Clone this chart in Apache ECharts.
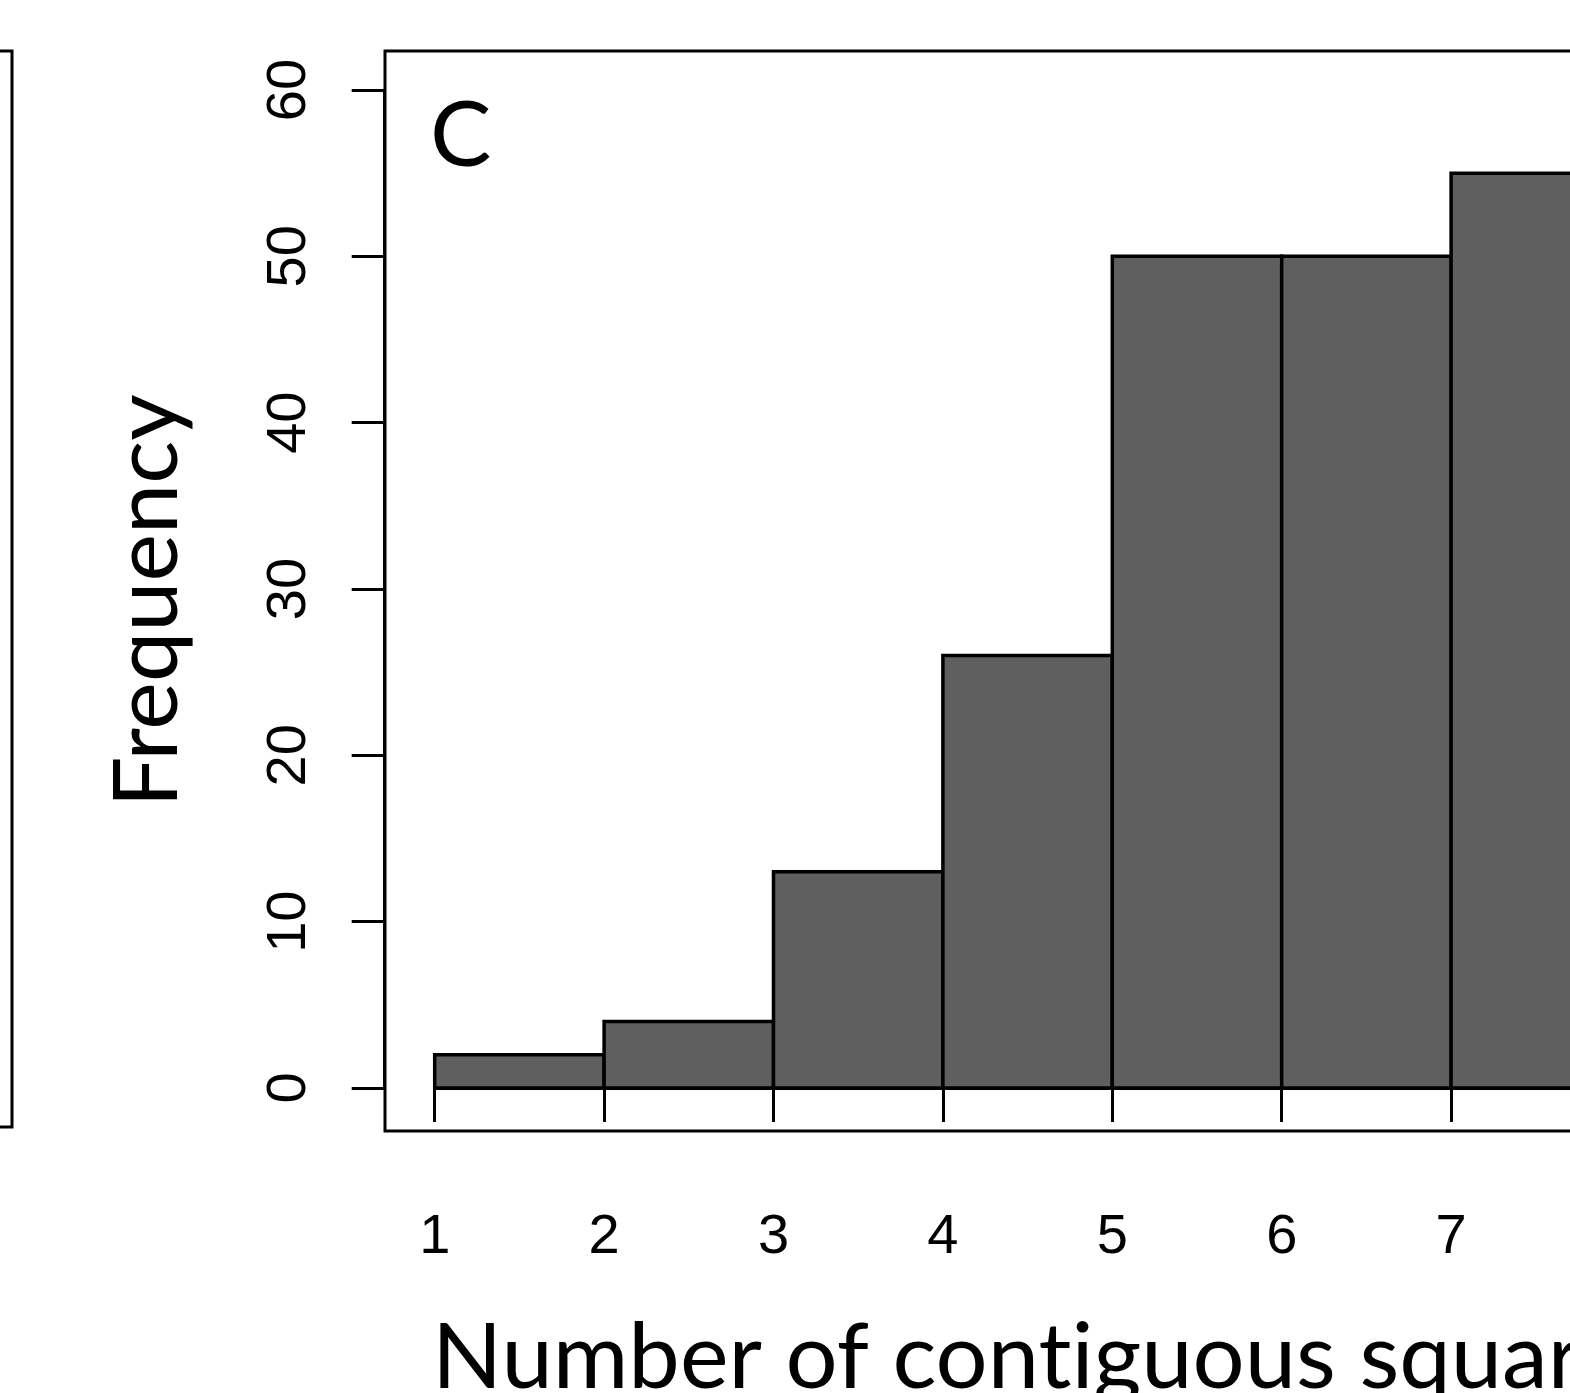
<!DOCTYPE html>
<html>
<head>
<meta charset="utf-8">
<script src="https://cdn.jsdelivr.net/npm/echarts@6/dist/echarts.min.js"></script>
<style>
  html, body { margin: 0; padding: 0; background: #fff; }
  #chart { width: 1570px; height: 1393px; }
</style>
</head>
<body>
<div id="chart"></div>
<script>
  // histogram bins (number of contiguous squares) and their counts
  const binStart = [1, 2, 3, 4, 5, 6, 7];
  const binEnd = [2, 3, 4, 5, 6, 7, 8];
  const counts = [2, 4, 13, 26, 50, 50, 55];
  const yTicks = [0, 60, 10];
  const xTicks = [1, 8, 1];
  const panelLetter = "C";
  // split between "t" and "i" into two rich runs so Lato does not draw a "ti" ligature
  const xTitle = "Number of cont{b|iguous squares}";
  const yTitle = "Frequency";

  const chart = echarts.init(document.getElementById("chart"));
  const data = binStart.map((s, i) => [s, binEnd[i], counts[i]]);
  const textFont = "Lato";
  const titleFont = '92px "' + textFont + '"';

  chart.setOption({
    animation: false,
    backgroundColor: "#fff",
    title: {
      text: panelLetter, left: 430, top: 90, padding: 0,
      textStyle: { fontFamily: textFont, fontSize: 92, fontWeight: "normal", color: "#000" }
    },
    grid: [
      { left: 434.7, width: 1185.8, top: 90, bottom: 305, show: false, outerBoundsMode: "none" },
      { left: 385, width: 1300, top: 51, bottom: 262, show: true, borderColor: "#000", borderWidth: 3, backgroundColor: "transparent", outerBoundsMode: "none" },
      { left: -100, width: 112, top: 51, bottom: 266, show: true, borderColor: "#000", borderWidth: 3, backgroundColor: "transparent", outerBoundsMode: "none" }
    ],
    xAxis: [
      {
        type: "value", gridIndex: 0, min: xTicks[0], max: xTicks[1], interval: xTicks[2],
        offset: 43,
        axisLine: { show: true, lineStyle: { color: "#000", width: 3 } },
        axisTick: { show: true, length: 34, lineStyle: { color: "#000", width: 3 } },
        axisLabel: { margin: 79, fontFamily: "Liberation Sans", fontSize: 56, color: "#000" },
        splitLine: { show: false }
      },
      { type: "value", gridIndex: 1, show: false },
      { type: "value", gridIndex: 2, show: false }
    ],
    yAxis: [
      {
        type: "value", gridIndex: 0, min: yTicks[0], max: yTicks[1], interval: yTicks[2],
        offset: 50,
        name: yTitle, nameLocation: "middle", nameRotate: 90, nameGap: 192,
        nameTextStyle: { fontFamily: textFont, fontSize: 90, color: "#000", padding: [0, 24, 0, 0] },
        axisLine: { show: true, lineStyle: { color: "#000", width: 3 } },
        axisTick: { show: true, length: 33, lineStyle: { color: "#000", width: 3 } },
        axisLabel: { rotate: 90, margin: 67, fontFamily: "Liberation Sans", fontSize: 56, color: "#000" },
        splitLine: { show: false }
      },
      { type: "value", gridIndex: 1, show: false },
      { type: "value", gridIndex: 2, show: false }
    ],
    graphic: [
      {
        type: "text", left: 432, top: 1312,
        style: {
          text: xTitle, font: titleFont, fill: "#000",
          rich: { b: { font: titleFont, fill: "#000" } }
        }
      }
    ],
    series: [{
      type: "custom",
      xAxisIndex: 0, yAxisIndex: 0,
      data: data,
      encode: { x: [0, 1], y: 2 },
      renderItem: (params, api) => {
        const p0 = api.coord([api.value(0), 0]);
        const p1 = api.coord([api.value(1), api.value(2)]);
        return {
          type: "rect",
          shape: { x: p0[0], y: p1[1], width: p1[0] - p0[0], height: p0[1] - p1[1] },
          style: { fill: "#5f5f5f", stroke: "#000", lineWidth: 3.5 }
        };
      }
    }]
  });
</script>
</body>
</html>
